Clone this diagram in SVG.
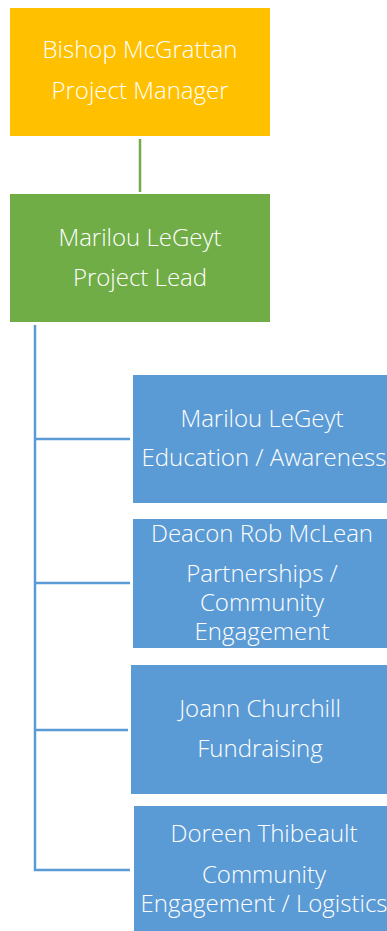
<svg xmlns="http://www.w3.org/2000/svg" width="387" height="931" viewBox="0 0 387 931">
<style>
.t{font-family:"Open Sans","Liberation Sans",sans-serif;font-weight:300;font-size:24px;fill:#fff;text-anchor:middle}
.b{fill:#5B9BD5}
.c{stroke:#5B9BD5;stroke-width:2.5;fill:none}
</style>
<rect width="387" height="931" fill="#fff"/>
<g id="connectors">
<line x1="140" y1="139" x2="140" y2="192" stroke="#70AD47" stroke-width="2.5"/>
<path class="c" d="M35 325V870H130M35 439H130M35 583H130M35 730H128"/>
</g>
<g id="n1"><rect x="10" y="8" width="260" height="128" fill="#FFC000"/>
<text class="t" x="140" y="58">Bishop McGrattan</text><text class="t" x="140" y="99">Project Manager</text></g>
<g id="n2"><rect x="10" y="194" width="260" height="128" fill="#70AD47"/>
<text class="t" x="140" y="246">Marilou LeGeyt</text><text class="t" x="140" y="286">Project Lead</text></g>
<g id="n3"><rect class="b" x="133" y="375" width="254" height="128"/>
<text class="t" x="262" y="427">Marilou LeGeyt</text><text class="t" x="264" y="466">Education / Awareness</text></g>
<g id="n4"><rect class="b" x="133" y="519" width="254" height="129"/>
<text class="t" x="262" y="542">Deacon Rob McLean</text><text class="t" x="262" y="582">Partnerships /</text><text class="t" x="262" y="611">Community</text><text class="t" x="262" y="640">Engagement</text></g>
<g id="n5"><rect class="b" x="131" y="665" width="256" height="129"/>
<text class="t" x="260" y="717">Joann Churchill</text><text class="t" x="260" y="757">Fundraising</text></g>
<g id="n6"><rect class="b" x="134" y="806" width="253" height="125"/>
<text class="t" x="264" y="842">Doreen Thibeault</text><text class="t" x="264" y="883">Community</text><text class="t" x="264" y="912">Engagement / Logistics</text></g>
</svg>
